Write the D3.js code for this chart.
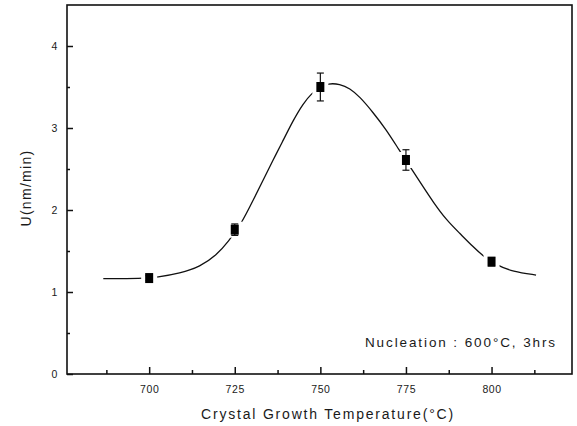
<!DOCTYPE html>
<html>
<head>
<meta charset="utf-8">
<script src="https://cdn.jsdelivr.net/npm/d3@7/dist/d3.min.js"></script>
<style>
  html, body { margin: 0; padding: 0; background: #fff; }
  svg { display: block; }
  text { font-family: "Liberation Sans", Arial, sans-serif; fill: #1a1a1a; }
</style>
</head>
<body>
<svg id="chart" width="577" height="426"></svg>
<script>
// ---- data ----
const temperatures = [700, 725, 750, 775, 800];
const growthRate   = [1.17, 1.76, 3.50, 2.61, 1.37];
const rateError    = [0.03, 0.07, 0.17, 0.125, 0.05];

// fitted curve
const fitT = [686.6, 697.9, 702.3, 709.0, 714.9, 719.7, 723.1, 727.0, 730.4, 733.3, 736.2, 738.7, 742.1, 745.0, 747.4, 749.9, 752.3, 755.7, 758.6, 761.5, 765.4, 769.3, 772.7, 777.1, 780.0, 782.9, 786.8, 790.7, 794.6, 797.5, 801.4, 806.2, 813.0];
const fitU = [1.162, 1.165, 1.18, 1.228, 1.309, 1.451, 1.613, 1.838, 2.122, 2.366, 2.61, 2.813, 3.098, 3.30, 3.42, 3.50, 3.545, 3.537, 3.484, 3.382, 3.19, 2.976, 2.752, 2.47, 2.284, 2.10, 1.878, 1.716, 1.552, 1.439, 1.329, 1.248, 1.207];

const xMajorTicks = [700, 725, 750, 775, 800];
const xMinorTicks = [687.5, 712.5, 737.5, 762.5, 787.5, 812.5];
const yMajorTicks = [0, 1, 2, 3, 4];
const yMinorTicks = [0.5, 1.5, 2.5, 3.5];

const xTitle = "Crystal Growth Temperature(°C)";
const yTitle = "U(nm/min)";
const note = "Nucleation : 600°C, 3hrs";

// ---- layout ----
const L = 67, R = 572, T = 5, B = 374;
const svg = d3.select("#chart");
const x = d3.scaleLinear().domain([676, 823.5]).range([L, R]);
const y = d3.scaleLinear().domain([0, 4.5]).range([B, T]);

// axes (ticks pointing inward)
const gx = svg.append("g").attr("transform", `translate(0,${B})`)
  .call(d3.axisBottom(x).tickValues(xMajorTicks).tickSizeInner(-7).tickSizeOuter(0).tickPadding(12).tickFormat(d3.format("d")));
const gxm = svg.append("g").attr("transform", `translate(0,${B})`)
  .call(d3.axisBottom(x).tickValues(xMinorTicks).tickSizeInner(-4).tickSizeOuter(0).tickFormat(""));
const gy = svg.append("g").attr("transform", `translate(${L},0)`)
  .call(d3.axisLeft(y).tickValues(yMajorTicks).tickSizeInner(-6).tickSizeOuter(0).tickPadding(9).tickFormat(d3.format("d")));
const gym = svg.append("g").attr("transform", `translate(${L},0)`)
  .call(d3.axisLeft(y).tickValues(yMinorTicks).tickSizeInner(-3).tickSizeOuter(0).tickFormat(""));

[gx, gxm, gy, gym].forEach(g => {
  g.select(".domain").remove();
  g.selectAll("line").attr("stroke", "#111").attr("stroke-width", 1.5);
  g.selectAll("text").style("font-size", "10.5px").style("letter-spacing", "0.6px").attr("fill", "#1a1a1a");
});

// frame
svg.append("rect").attr("x", L).attr("y", T).attr("width", R - L).attr("height", B - T)
  .attr("fill", "none").attr("stroke", "#111").attr("stroke-width", 1.6);

// fitted curve
const curvePts = fitT.map((t, i) => [t, fitU[i]]);
svg.append("path").datum(curvePts)
  .attr("fill", "none").attr("stroke", "#111").attr("stroke-width", 1.3)
  .attr("d", d3.line().x(d => x(d[0])).y(d => y(d[1])).curve(d3.curveBasis));

// data points with error bars
const pts = temperatures.map((t, i) => ({t, u: growthRate[i], e: rateError[i]}));
const g = svg.append("g");
// white gaps around symbols
g.selectAll("rect.gap").data(pts).join("rect").attr("class", "gap")
  .attr("x", d => x(d.t) - 8).attr("y", d => y(d.u) - 8).attr("width", 16).attr("height", 16)
  .attr("fill", "#fff");
// error bars
pts.forEach(d => {
  const cx = x(d.t), y1 = y(d.u + d.e), y2 = y(d.u - d.e);
  g.append("line").attr("x1", cx).attr("x2", cx).attr("y1", y1).attr("y2", y2).attr("stroke", "#111").attr("stroke-width", 1.2);
  g.append("line").attr("x1", cx - 3.5).attr("x2", cx + 3.5).attr("y1", y1).attr("y2", y1).attr("stroke", "#111").attr("stroke-width", 1.2);
  g.append("line").attr("x1", cx - 3.5).attr("x2", cx + 3.5).attr("y1", y2).attr("y2", y2).attr("stroke", "#111").attr("stroke-width", 1.2);
});
g.selectAll("rect.sym").data(pts).join("rect").attr("class", "sym")
  .attr("x", d => x(d.t) - 4).attr("y", d => y(d.u) - 5).attr("width", 8).attr("height", 10)
  .attr("fill", "#000");

// titles
svg.append("text").attr("x", 328).attr("y", 419).attr("text-anchor", "middle")
  .style("font-size", "14px").style("letter-spacing", "1.8px").text(xTitle);
svg.append("text").attr("transform", "translate(31,188) rotate(-90)").attr("text-anchor", "middle")
  .style("font-size", "14px").style("letter-spacing", "1.3px").text(yTitle);
svg.append("text").attr("x", 557).attr("y", 347).attr("text-anchor", "end")
  .style("font-size", "13.5px").style("letter-spacing", "1.9px").text(note);
</script>
</body>
</html>
